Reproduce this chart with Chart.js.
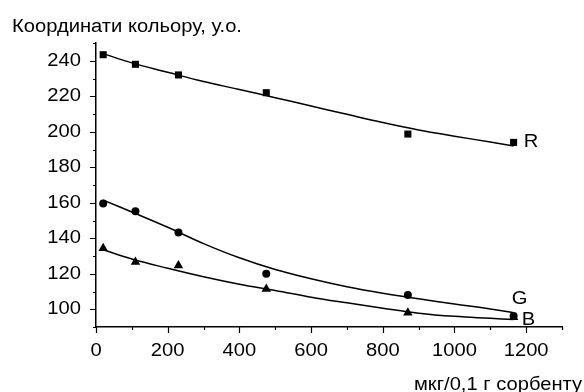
<!DOCTYPE html>
<html>
<head>
<meta charset="utf-8">
<script src="https://cdn.jsdelivr.net/npm/chart.js@4/dist/chart.umd.min.js"></script>
<style>
  body { margin: 0; background: #fff; }
  canvas { display: block; }
</style>
</head>
<body>
<canvas id="grafico" width="584" height="392"></canvas>
<script>
// measured points (мкг/0,1 г сорбенту)
const pointsX = [20, 110, 230, 475, 870, 1165];
const valuesR = [243.4, 238, 232, 222, 198.7, 194];
const valuesG = [159.6, 155.2, 143.2, 120, 108, 96.2];
const valuesB = [134.3, 126.6, 124.7, 111.4, 98, 95.5];

// fitted curves
const curveX = [20, 100, 200, 300, 400, 500, 600, 700, 800, 900, 1000, 1100, 1165];
const curveR = [244, 238.8, 233.5, 228.3, 223.8, 219.2, 214.5, 209.8, 205.2, 201, 197.5, 194.2, 192];
const curveG = [161.5, 154.8, 146.2, 137, 129, 122.4, 117.2, 112.7, 109, 105.9, 103, 100.2, 98];
const curveB = [133.5, 128.3, 123.1, 118.3, 114.1, 110.6, 106.8, 103.6, 100.6, 97.8, 96, 94.9, 94.2];

const xTicks = [0, 200, 400, 600, 800, 1000, 1200];
const yTicks = [100, 120, 140, 160, 180, 200, 220, 240];

const titleY = 'Координати кольору, у.о.';
const titleX = 'мкг/0,1 г сорбенту';
const seriesNames = ['R', 'G', 'B'];

const FONTE = '18px "Liberation Sans", Arial, sans-serif';
const LARGURA = 1.12; // text in the picture is a bit wide

Chart.defaults.font.family = '"Liberation Sans", Arial, sans-serif';
Chart.defaults.color = '#000';

function pares(xs, ys) {
    return xs.map((x, i) => ({ x: x, y: ys[i] }));
}

function curva(ys) {
    return {
        data: pares(curveX, ys),
        showLine: true,
        borderColor: '#000',
        borderWidth: 1.5,
        pointRadius: 0,
        tension: 0.4,
        fill: false
    };
}

function pontos(ys, estilo, raio) {
    return {
        data: pares(pointsX, ys),
        showLine: false,
        pointStyle: estilo,
        pointRadius: raio,
        backgroundColor: '#000',
        borderColor: '#000',
        borderWidth: 0
    };
}

function texto(ctx, s, x, y, align) {
    ctx.save();
    ctx.translate(x, y);
    ctx.scale(LARGURA, 1);
    ctx.textAlign = align || 'left';
    ctx.fillText(s, 0, 0);
    ctx.restore();
}

// ticks and texts drawn by hand (major + minor ticks, labels)
const extras = {
    id: 'extras',
    afterDraw(chart) {
        const ctx = chart.ctx;
        const sx = chart.scales.x;
        const sy = chart.scales.y;
        const area = chart.chartArea;
        ctx.save();
        ctx.strokeStyle = '#000';
        ctx.lineWidth = 1.2;
        ctx.beginPath();
        for (let v = sx.min; v <= sx.max; v += 100) {
            const px = Math.round(sx.getPixelForValue(v)) + 0.5;
            const len = xTicks.includes(v) ? 6 : 3;
            ctx.moveTo(px, area.bottom);
            ctx.lineTo(px, area.bottom + len);
        }
        for (let v = sy.min; v <= sy.max; v += 10) {
            const py = Math.round(sy.getPixelForValue(v)) + 0.5;
            const len = yTicks.includes(v) ? 6 : 3;
            ctx.moveTo(area.left, py);
            ctx.lineTo(area.left - len, py);
        }
        ctx.stroke();

        ctx.fillStyle = '#000';
        ctx.font = FONTE;
        ctx.textBaseline = 'alphabetic';
        xTicks.forEach(v => texto(ctx, String(v), sx.getPixelForValue(v), 356, 'center'));
        ctx.textBaseline = 'middle';
        yTicks.forEach(v => texto(ctx, String(v), area.left - 15, sy.getPixelForValue(v), 'right'));

        ctx.textBaseline = 'alphabetic';
        texto(ctx, titleY, 12, 32);
        texto(ctx, titleX, 414, 390);

        const lugares = [[1193, 191.4], [1160, 103.2], [1188, 91]];
        seriesNames.forEach((nome, i) => {
            texto(ctx, nome, sx.getPixelForValue(lugares[i][0]), sy.getPixelForValue(lugares[i][1]));
        });
        ctx.restore();
    }
};

new Chart(document.getElementById('grafico'), {
    type: 'scatter',
    data: {
        datasets: [
            curva(curveR),
            curva(curveG),
            curva(curveB),
            pontos(valuesR, 'rect', 5),
            pontos(valuesG, 'circle', 4),
            pontos(valuesB, 'triangle', 5.5)
        ]
    },
    options: {
        responsive: false,
        animation: false,
        layout: { padding: { top: 43, right: 22, left: 0, bottom: 0 } },
        plugins: {
            legend: { display: false },
            tooltip: { enabled: false }
        },
        scales: {
            x: {
                type: 'linear',
                min: 0,
                max: 1300,
                afterFit(scale) { scale.height = 65; },
                grid: { drawOnChartArea: false, drawTicks: false },
                border: { color: '#000', width: 1.5 },
                ticks: { stepSize: 100, autoSkip: false, display: false }
            },
            y: {
                min: 90,
                max: 250,
                afterFit(scale) { scale.width = 96; },
                grid: { drawOnChartArea: false, drawTicks: false },
                border: { color: '#000', width: 1.5 },
                ticks: { stepSize: 10, autoSkip: false, display: false }
            }
        }
    },
    plugins: [extras]
});
</script>
</body>
</html>
